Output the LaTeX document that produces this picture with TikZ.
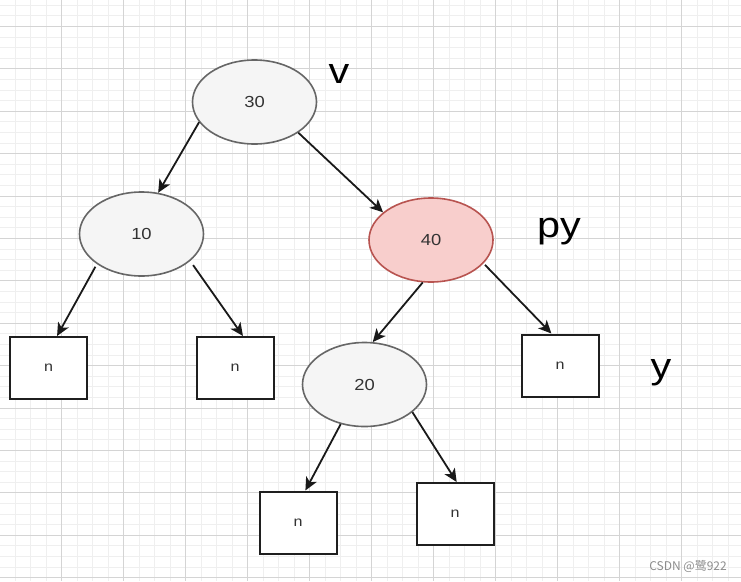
\documentclass[tikz,border=0pt]{standalone}
\usepackage{fontspec}
\usepackage{graphicx}
\setmainfont{Liberation Sans}
\newfontfamily\cjkfont{Noto Sans CJK SC}
\usetikzlibrary{arrows.meta,shapes.geometric}
\definecolor{gmajor}{HTML}{D4D4D4}
\definecolor{gminor}{HTML}{EFEFEF}
\definecolor{nodefill}{HTML}{F5F5F5}
\definecolor{nodeline}{HTML}{666666}
\definecolor{redfill}{HTML}{F8CECC}
\definecolor{redline}{HTML}{B85450}
\definecolor{txt}{HTML}{333333}
\definecolor{wm}{HTML}{8C8C8C}
\newcommand\widetxt[1]{\scalebox{1.15}[1]{#1}}
\tikzset{
  minorline/.style={gminor, line width=1pt},
  majorline/.style={gmajor, line width=1.6pt},
  treenode/.style={ellipse, draw=nodeline, fill=nodefill, line width=1.6pt,
    minimum width=124pt, minimum height=84pt, inner sep=0pt, text=txt,
    font=\fontsize{16}{18}\selectfont},
  rednode/.style={treenode, draw=redline, fill=redfill},
  leafbox/.style={rectangle, draw=black!88, fill=white, line width=2pt,
    minimum width=77pt, minimum height=62pt, inner sep=0pt, text=txt,
    font=\fontsize{14}{16}\selectfont},
  edge/.style={draw=black!90, line width=1.8pt,
    -{Stealth[length=13pt, width=12pt, inset=3.5pt]}},
  biglabel/.style={anchor=base, inner sep=0pt, text=black,
    font=\fontsize{36}{40}\selectfont}
}
\begin{document}
\begin{tikzpicture}[x=1pt, y=-1pt]
\useasboundingbox (0,0) rectangle (741,581);
\fill[white] (0,0) rectangle (741,581);
% grid
\foreach \i in {0,...,48} \draw[minorline] ({round(-1+15.5*\i)+0.5},0) -- ({round(-1+15.5*\i)+0.5},581);
\foreach \j in {-2,...,52} \draw[minorline] (0,{round(26+10.6*\j)+0.5}) -- (741,{round(26+10.6*\j)+0.5});
\foreach \i in {0,...,12} \draw[majorline] ({-1+62*\i+0.5},0) -- ({-1+62*\i+0.5},581);
\foreach \j in {0,...,13} \draw[majorline] (0,{round(26+42.4*\j)+0.5}) -- (741,{round(26+42.4*\j)+0.5});
% tree nodes
\node[treenode] (n30) at (254.5,102) {\widetxt{30}};
\node[treenode] (n10) at (141.5,234) {\widetxt{10}};
\node[rednode]  (n40) at (431,240) {\widetxt{40}};
\node[treenode] (n20) at (364.5,384.5) {\widetxt{20}};
% leaf boxes
\node[leafbox] (b1) at (48.5,368) {\widetxt{n}};
\node[leafbox] (b2) at (235,368) {\widetxt{n}};
\node[leafbox] (b3) at (560,365.5) {\widetxt{n}};
\node[leafbox] (b4) at (298,522.5) {\widetxt{n}};
\node[leafbox] (b5) at (455,514) {\widetxt{n}};
% edges
\draw[edge] (n30.200) -- (n10.68);
\draw[edge] (n30.-35.5) -- (n40.150);
\draw[edge, shorten <=3pt] (n10.214) -- (b1.75);
\draw[edge, shorten <=5pt] (n10.-29) -- (b2.76);
\draw[edge] (n40.259.5) -- (n20.79);
\draw[edge, shorten <=2pt] (n40.-24.4) -- (b3.105.5);
\draw[edge] (n20.239.7) -- (b4.77.5);
\draw[edge] (n20.-30) -- (b5.87);
% labels
\node[biglabel] (lv) at (339,83) {\widetxt{v}};
\node[biglabel] (lpy) at (559,237) {\widetxt{py}};
\node[biglabel] (ly) at (661,378) {\widetxt{y}};
% watermark
\node[anchor=east, inner sep=0pt, text=wm, font=\cjkfont\fontsize{12}{14}\selectfont] (wmark) at (727,566) {CSDN @鹭922};
\end{tikzpicture}
\end{document}
